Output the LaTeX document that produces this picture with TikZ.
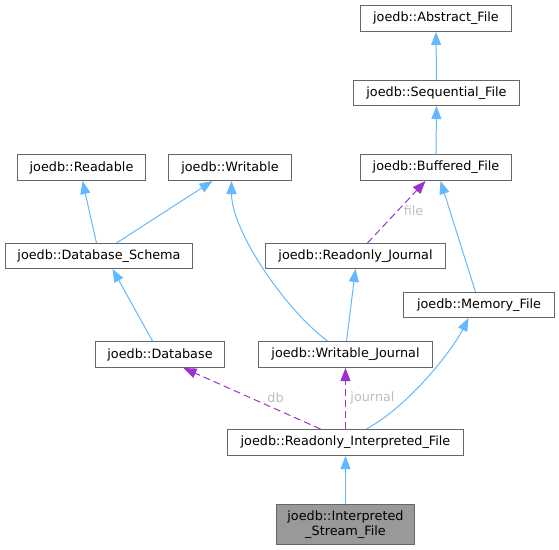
\documentclass[tikz,border=0pt]{standalone}
\usepackage{fontspec}
\setmainfont{DejaVu Sans}
\usetikzlibrary{arrows.meta}
\definecolor{boxline}{HTML}{666666}
\definecolor{curfill}{HTML}{999999}
\definecolor{inhblue}{HTML}{63B8FF}
\definecolor{usepurple}{HTML}{9A32CD}
\definecolor{lblgray}{HTML}{BEBEBE}
\begin{document}
\begin{tikzpicture}[x=1pt, y=-1pt,
        cls/.style={rectangle, draw=boxline, line width=1pt, fill=white, inner sep=0pt, text centered, font=\fontsize{12.8}{15}\selectfont},
        cur/.style={cls, fill=curfill, align=center},
        inherit/.style={-{Triangle[length=13pt, width=10pt, fill=inhblue]}, draw=inhblue, line width=1pt},
        usage/.style={-{Triangle[length=13pt, width=10pt, fill=usepurple]}, draw=usepurple, line width=1pt, dash pattern=on 7pt off 4pt},
        edgelabel/.style={text=lblgray, font=\fontsize{12.8}{15}\selectfont}
    ]
        \useasboundingbox (-0.5,-0.5) rectangle (558.5,548.5);

        % File chain
        \node[cls, minimum width=151pt, minimum height=26pt] (abs) at (435.5,18) {joedb::Abstract\_File};
        \node[cls, minimum width=166pt, minimum height=25pt] (seq) at (436,92.5) {joedb::Sequential\_File};
        \node[cls, minimum width=151pt, minimum height=26pt] (buf) at (435.5,167) {joedb::Buffered\_File};
        \node[cls, minimum width=151pt, minimum height=25pt] (mem) at (478.5,304.5) {joedb::Memory\_File};

        % Schema side
        \node[cls, minimum width=128pt, minimum height=26pt] (rdb) at (81,167) {joedb::Readable};
        \node[cls, minimum width=123pt, minimum height=26pt] (wrt) at (229.5,167) {joedb::Writable};
        \node[cls, minimum width=187pt, minimum height=25pt] (sch) at (98.5,255.5) {joedb::Database\_Schema};
        \node[cls, minimum width=129pt, minimum height=26pt] (dbs) at (159.5,354) {joedb::Database};

        % Journals
        \node[cls, minimum width=180pt, minimum height=25pt] (rjr) at (355,255.5) {joedb::Readonly\_Journal};
        \node[cls, minimum width=174pt, minimum height=26pt] (wjr) at (345,354) {joedb::Writable\_Journal};

        % Interpreted files
        \node[cls, minimum width=236pt, minimum height=26pt] (rif) at (345,442) {joedb::Readonly\_Interpreted\_File};
        \node[cur, minimum width=138pt, minimum height=40pt] (isf) at (345,524) {joedb::Interpreted\\\_Stream\_File};

        % Inheritance
        \draw[inherit] (seq.north) -- (abs.south);
        \draw[inherit] (buf.north) -- (seq.south);
        \draw[inherit] ([xshift=-3.5pt]mem.north) -- ([xshift=4.5pt]buf.south);
        \draw[inherit] ([xshift=-2.5pt]sch.north) -- ([xshift=1pt]rdb.south);
        \draw[inherit] ([xshift=17.5pt]sch.north) -- ([xshift=-17.5pt]wrt.south);
        \draw[inherit] ([xshift=-7.5pt]dbs.north) -- ([xshift=13.5pt]sch.south);
        \draw[inherit] ([xshift=-18pt]wjr.north) .. controls +(-42,-31) and +(0,50) .. ([xshift=1.5pt]wrt.south);
        \draw[inherit] ([xshift=1pt]wjr.north) -- (rjr.south);
        \draw[inherit] ([xshift=21pt]rif.north) .. controls +(45,-25) and +(-15,30) .. ([xshift=-10.5pt]mem.south);
        \draw[inherit] (isf.north) -- (rif.south);

        % Members
        \draw[usage] ([xshift=12pt]rjr.north) -- ([xshift=-10.5pt]buf.south);
        \draw[usage] ([xshift=-25pt]rif.north) -- ([xshift=23.5pt]dbs.south);
        \draw[usage] (rif.north) -- (wjr.south);

        % Member labels
        \node[edgelabel] (lfile) at (413,210) {file};
        \node[edgelabel] (ldb) at (275,397) {db};
        \node[edgelabel] (ljour) at (372,397) {journal};
    \end{tikzpicture}
\end{document}
